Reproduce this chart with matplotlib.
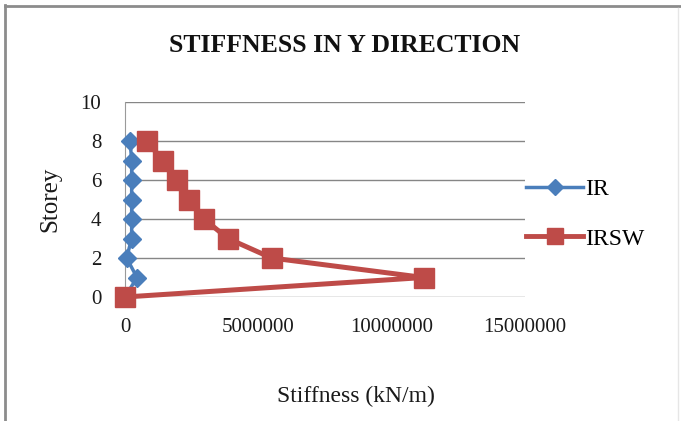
import matplotlib
matplotlib.use("Agg")
import matplotlib.pyplot as plt
from matplotlib.lines import Line2D

storey = [0, 1, 2, 3, 4, 5, 6, 7, 8]
ir_stiffness = [0, 450000, 60000, 250000, 250000, 250000, 250000, 250000, 190000]
irsw_stiffness = [0, 11200000, 5500000, 3860000, 2960000, 2400000, 1940000, 1430000, 810000]
x_ticks = [0, 5000000, 10000000, 15000000]
y_ticks = [0, 2, 4, 6, 8, 10]

W, H, DPI = 681, 421, 100
fig = plt.figure(figsize=(W / DPI, H / DPI), dpi=DPI)
plt.rcParams['font.family'] = ['Liberation Serif', 'DejaVu Serif']

# plot area in pixel coordinates
left, right, top, bottom = 125, 525, 102, 297
ax = fig.add_axes([left / W, 1 - bottom / H, (right - left) / W, (bottom - top) / H])

blue = '#4a7ebb'
red = '#be4b48'
text_color = '#1a1a1a'

ax.plot(ir_stiffness, storey, color=blue, lw=2.5, marker='D', ms=9,
        markeredgecolor=blue, markerfacecolor=blue, zorder=3, clip_on=False)
ax.plot(irsw_stiffness, storey, color=red, lw=3.6, marker='s', ms=15,
        markeredgecolor=red, markerfacecolor=red, zorder=4, clip_on=False)

ax.set_xlim(0, 15000000)
ax.set_ylim(0, 10)
ax.set_xticks(x_ticks)
ax.set_xticklabels([str(v) for v in x_ticks])
ax.set_yticks(y_ticks)
ax.grid(axis='y', color='#868686', lw=1)
ax.set_axisbelow(True)
for s in ['top', 'right', 'bottom']:
    ax.spines[s].set_visible(False)
ax.spines['left'].set_color('#9a9a9a')
ax.tick_params(axis='both', length=0, labelsize=15, colors=text_color)
ax.tick_params(axis='x', pad=15)
ax.tick_params(axis='y', pad=17)

ax.set_xlabel('Stiffness (kN/m)', fontsize=17, color=text_color, va='center')
ax.xaxis.set_label_coords((356 - left) / (right - left), -(396 - bottom) / (bottom - top))
ax.set_ylabel('Storey', fontsize=18, color=text_color, labelpad=14)

fig.text(345 / W, 1 - 46 / H, 'STIFFNESS IN Y DIRECTION', ha='center', va='center',
         fontsize=18.5, fontweight='bold', color='#111111')

handles = [
    Line2D([], [], color=blue, lw=2.5, marker='D', ms=8),
    Line2D([], [], color=red, lw=3.5, marker='s', ms=11),
]
fig.legend(handles, ['IR', 'IRSW'], loc='center left',
           bbox_to_anchor=(505 / W, 1 - 214 / H), frameon=False, fontsize=17,
           handlelength=2.4, handletextpad=0.1, labelspacing=1.2)

# figure frame
fig.add_artist(Line2D([5 / W, 5 / W], [0, 1 - 5 / H], transform=fig.transFigure,
                      color='#8c8c8c', lw=2))
fig.add_artist(Line2D([5 / W, 1], [1 - 6 / H, 1 - 6 / H], transform=fig.transFigure,
                      color='#8c8c8c', lw=2))
fig.add_artist(Line2D([678 / W, 678 / W], [0, 1 - 8 / H], transform=fig.transFigure,
                      color='#e6e6e6', lw=1))

fig.savefig('out.png', dpi=DPI)
